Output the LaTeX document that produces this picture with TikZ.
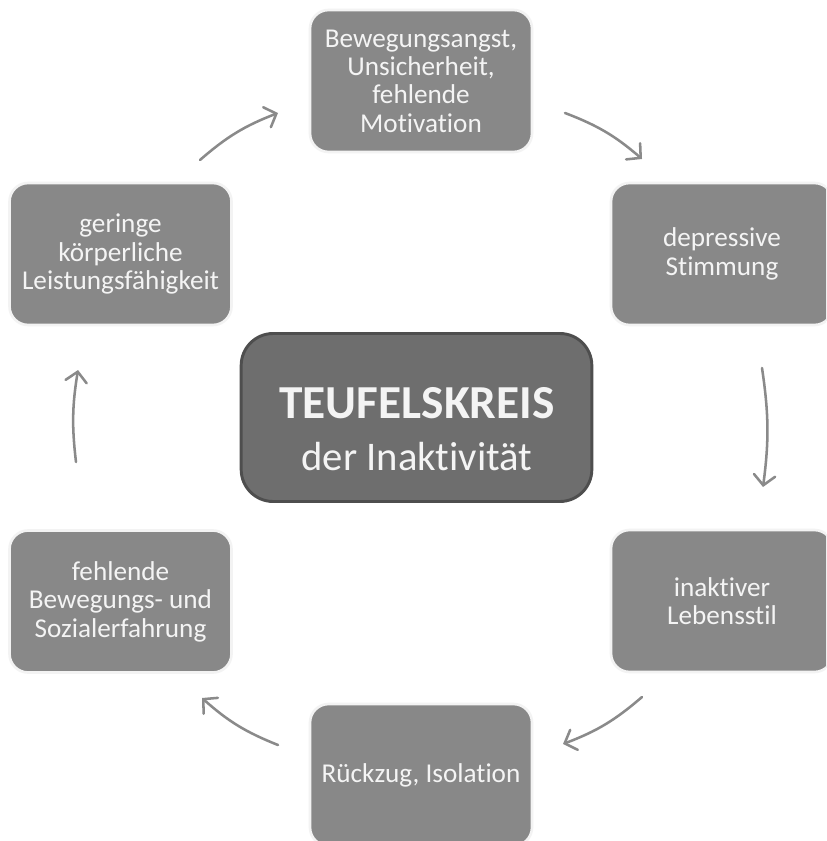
\documentclass[tikz,border=0pt]{standalone}
\usepackage{fontspec}
\setmainfont[Ligatures={NoCommon,NoContextual,NoRequired},RawFeature={-liga;-calt;-clig}]{Carlito}
\usetikzlibrary{arrows.meta}
\definecolor{boxgray}{HTML}{888888}
\definecolor{centerfill}{HTML}{6E6E6E}
\definecolor{centeredge}{HTML}{4E4E4E}
\definecolor{textwhite}{HTML}{F4F4F4}
\definecolor{arrowgray}{HTML}{8A8A8A}
\definecolor{halo}{HTML}{F3F3F3}
\begin{document}
\begin{tikzpicture}[x=0.75pt,y=-0.75pt,
  cyclebox/.style={rounded corners=14pt, fill=boxgray, draw=halo, line width=2pt,
    minimum width=166.5pt, minimum height=106.5pt, text=textwhite, align=center,
    font=\fontsize{20.4}{21.3}\selectfont, inner sep=0pt},
  centerbox/.style={rounded corners=24pt, fill=centerfill, draw=centeredge, line width=2.2pt,
    minimum width=263pt, minimum height=126pt, inner sep=0pt},
  centertext/.style={text=textwhite, anchor=base, inner sep=0pt},
  cyclearrow/.style={draw=arrowgray, line width=1.9pt, line cap=round,
    -{Straight Barb[length=7.5pt,width=16pt,line cap=round]}}
]
\useasboundingbox (0,0) rectangle (826,841);
\clip (0,0) rectangle (826,841);
\fill[white] (0,0) rectangle (826,841);

\node[cyclebox] (top) at (421,81) {Bewegungsangst,\\Unsicherheit,\\fehlende\\Motivation};
\node[cyclebox] (rtop) at (722,254) {depressive\\Stimmung};
\node[cyclebox] (rbot) at (722,601) {inaktiver\\Lebensstil};
\node[cyclebox] (bot) at (421,775) {Rückzug, Isolation};
\node[cyclebox] (lbot) at (120.5,601.5) {fehlende\\Bewegungs- und\\Sozialerfahrung};
\node[cyclebox] (ltop) at (120.5,254) {geringe\\körperliche\\Leistungsfähigkeit};

\node[centerbox] (center) at (416.5,417.5) {};
\node[centertext, font=\fontsize{35.5}{39}\selectfont\bfseries] (title) at (417,418) {TEUFELSKREIS};
\node[centertext, font=\fontsize{30.5}{36}\selectfont] (subtitle) at (417,470) {der Inaktivität};

\coordinate (a1s) at (200,160); \coordinate (a1e) at (278,113);
\coordinate (a2s) at (565,113); \coordinate (a2e) at (642,159);
\coordinate (a3s) at (762,368); \coordinate (a3e) at (763,487);
\coordinate (a4s) at (642,697); \coordinate (a4e) at (563,744);
\coordinate (a5s) at (278,745); \coordinate (a5e) at (202,698);
\coordinate (a6s) at (76,462);  \coordinate (a6e) at (78,370);

\draw[cyclearrow] (a1s) to[bend left=10] (a1e);
\draw[cyclearrow] (a2s) to[bend left=10] (a2e);
\draw[cyclearrow] (a3s) to[bend left=8] (a3e);
\draw[cyclearrow] (a4s) to[bend left=10] (a4e);
\draw[cyclearrow] (a5s) to[bend left=10] (a5e);
\draw[cyclearrow] (a6s) to[bend left=8] (a6e);
\end{tikzpicture}
\end{document}
